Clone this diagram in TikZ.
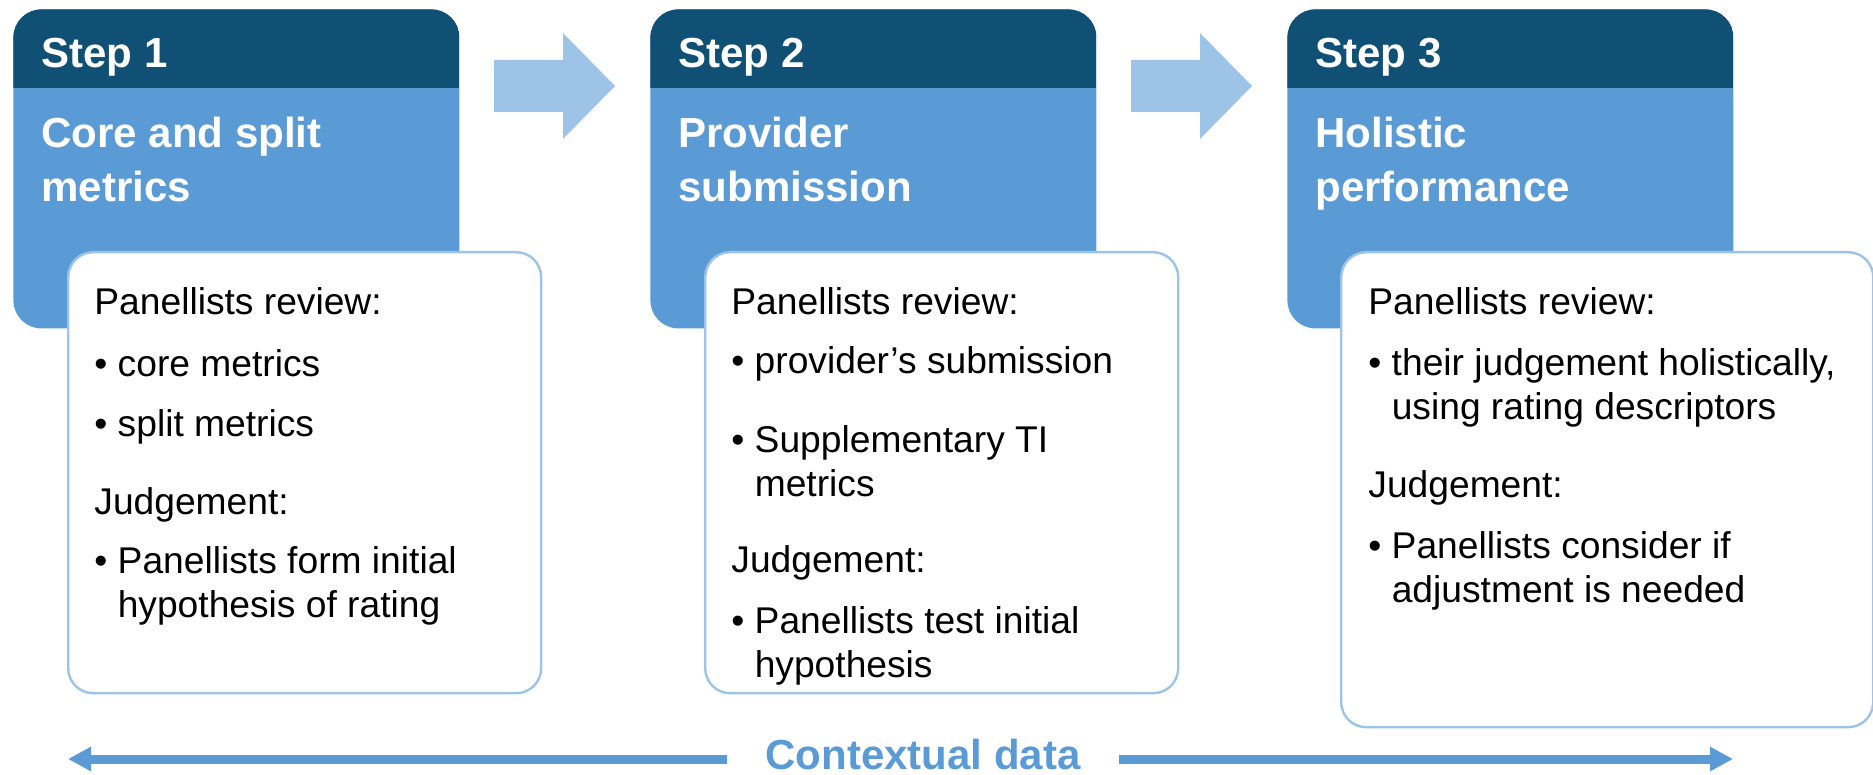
\documentclass[tikz,border=0pt]{standalone}
\usepackage{fontspec}
\setmainfont{Liberation Sans}
\usepackage{tikz}
\usetikzlibrary{arrows.meta,positioning,calc}
\definecolor{stepdark}{RGB}{17,80,117}
\definecolor{stepblue}{RGB}{91,155,213}
\definecolor{paleblue}{RGB}{157,195,230}
\newcommand{\hang}{\phantom{\textbullet\ }}

\begin{document}
\begin{tikzpicture}[x=0.5pt,y=-0.5pt,
	stepbox/.style={anchor=north west, fill=stepblue, rounded corners=14pt, minimum width=223pt, minimum height=159.5pt, inner sep=0pt,
		path picture={\fill[stepdark,sharp corners] (path picture bounding box.north west) rectangle ([yshift=-39.5pt]path picture bounding box.north east);}},
	panel/.style={anchor=north west, fill=white, draw=paleblue, line width=1.2pt, rounded corners=12.5pt, inner sep=0pt},
	steptitle/.style={anchor=base west, inner sep=0pt, text=white, align=left, font=\fontsize{21}{27}\selectfont\bfseries},
	paneltext/.style={anchor=base west, inner sep=0pt, align=left, font=\fontsize{18.6}{22}\selectfont},
	flowarrow/.style={fill=paleblue},
	ctxarrow/.style={draw=stepblue, line width=4.5pt, -{Triangle[length=11.5pt,width=11.5pt]}}]
	\useasboundingbox (0,0) rectangle (1873,775);

	% step boxes (base of a node with several lines = its last line)
	\node[stepbox] (s1) at (13,9) {}; \node[stepbox] (s2) at (650,9) {};
	\node[stepbox] (s3) at (1287,9) {};
	\node[steptitle] (h1) at (41,68) {Step 1}; \node[steptitle] (t1) at (41,202) {Core and split\\metrics};
	\node[steptitle] (h2) at (678,68) {Step 2}; \node[steptitle] (t2) at (678,202) {Provider\\submission};
	\node[steptitle] (h3) at (1315,68) {Step 3}; \node[steptitle] (t3) at (1315,202) {Holistic\\performance};

	% arrows between the steps
	\foreach \dx in {0,637}
		\fill[flowarrow] (494+\dx,60) -- (563+\dx,60) -- (563+\dx,33) -- (615+\dx,86) -- (563+\dx,139) -- (563+\dx,112) -- (494+\dx,112) -- cycle;

	% panels
	\node[panel, minimum width=236.5pt, minimum height=220.5pt] (p1) at (67,251) {};
	\node[panel, minimum width=236.5pt, minimum height=220.5pt] (p2) at (704,251) {};
	\node[panel, minimum width=266pt, minimum height=237.5pt] (p3) at (1340,251) {};

	\node[paneltext] (r1) at (94,617) {Panellists review:\\[9pt]
		\textbullet\ core metrics\\[8pt]
		\textbullet\ split metrics\\[17pt]
		Judgement:\\[7.5pt]
		\textbullet\ Panellists form initial\\
		\hang hypothesis of rating};
	\node[paneltext] (r2) at (731,677) {Panellists review:\\[7.5pt]
		\textbullet\ provider’s submission\\[17.5pt]
		\textbullet\ Supplementary TI\\
		\hang metrics\\[16pt]
		Judgement:\\[8.5pt]
		\textbullet\ Panellists test initial\\
		\hang hypothesis};
	\node[paneltext] (r3) at (1368,602) {Panellists review:\\[8.5pt]
		\textbullet\ their judgement holistically,\\
		\hang using rating descriptors\\[17pt]
		Judgement:\\[8.5pt]
		\textbullet\ Panellists consider if\\
		\hang adjustment is needed};

	% contextual data
	\node[anchor=base, inner xsep=19pt, inner ysep=0pt, text=stepblue, font=\fontsize{21}{25}\selectfont\bfseries] (ctx) at (923,769) {Contextual data};
	\coordinate (ctxL) at (68,759); \coordinate (ctxR) at (1733,759);
	\draw[ctxarrow] (ctx.west |- ctxL) -- (ctxL);
	\draw[ctxarrow] (ctx.east |- ctxR) -- (ctxR);
\end{tikzpicture}
\end{document}
